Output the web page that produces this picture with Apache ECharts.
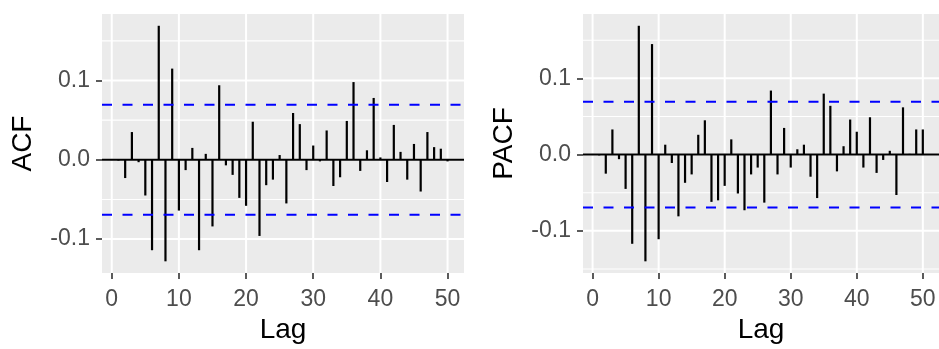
<!DOCTYPE html>
<html>
<head>
<meta charset="utf-8">
<script src="https://cdn.jsdelivr.net/npm/echarts@6/dist/echarts.min.js"></script>
<style>
html,body{margin:0;padding:0;background:#fff;}
#chart{width:939px;height:349px;}
</style>
</head>
<body>
<div id="chart"></div>
<script>
// ---- data ----
var lags = [1,2,3,4,5,6,7,8,9,10,11,12,13,14,15,16,17,18,19,20,21,22,23,24,25,26,27,28,29,30,31,32,33,34,35,36,37,38,39,40,41,42,43,44,45,46,47,48,49,50];
var acfValues = [-0.001,-0.023,0.035,-0.003,-0.045,-0.114,0.169,-0.128,0.115,-0.064,-0.013,0.015,-0.114,0.0075,-0.084,0.094,-0.007,-0.019,-0.048,-0.058,0.048,-0.096,-0.032,-0.025,0.006,-0.055,0.059,0.045,-0.013,0.018,-0.002,0.037,-0.033,-0.022,0.049,0.098,-0.014,0.012,0.078,0.003,-0.028,0.044,0.010,-0.025,0.020,-0.040,0.035,0.016,0.014,-0.002];
var pacfValues = [-0.001,-0.025,0.033,-0.006,-0.045,-0.117,0.169,-0.140,0.145,-0.111,0.013,-0.011,-0.081,-0.037,-0.026,0.026,0.045,-0.062,-0.060,-0.041,0.020,-0.051,-0.073,-0.026,-0.017,-0.063,0.084,-0.026,0.035,-0.017,0.007,0.013,-0.029,-0.057,0.080,0.064,-0.022,0.011,0.046,0.030,-0.017,0.049,-0.024,-0.007,0.005,-0.053,0.062,0.001,0.033,0.033];
var ciBound = 0.0693;
var xTicks = [0,10,20,30,40,50];
var yTicks = [-0.1,0.0,0.1];
var yMinorTicks = [-0.15,-0.05,0.05,0.15];
var xTitle = 'Lag';
var panelTitles = ['ACF','PACF'];

// ---- helpers ----
var FONT = '"Liberation Sans", Arial, sans-serif';
function expand(lo, hi){ var d=(hi-lo)*0.05; return [lo-d, hi+d]; }
var xr = expand(Math.min.apply(null,lags), Math.max.apply(null,lags));

var grids = [
  {left:102, top:14, width:362, height:261},
  {left:583, top:14, width:360, height:261}
];

var option = {
  backgroundColor:'#ffffff',
  animation:false,
  grid:[], xAxis:[], yAxis:[], series:[]
};

function vLineSeries(i, vals, color, width, z, dash){
  return {
    type:'custom', xAxisIndex:i, yAxisIndex:i, z:z, silent:true, clip:true,
    data: vals.map(function(v){ return [v, 0]; }),
    renderItem:function(params, api){
      var cs = params.coordSys;
      var p = api.coord([api.value(0), 0]);
      return {type:'line', shape:{x1:p[0], y1:cs.y, x2:p[0], y2:cs.y+cs.height},
        style:{stroke:color, lineWidth:width, lineDash:dash||null}};
    }
  };
}
function hLineSeries(i, vals, color, width, z, dash){
  return {
    type:'custom', xAxisIndex:i, yAxisIndex:i, z:z, silent:true, clip:true,
    data: vals.map(function(v){ return [0, v]; }),
    renderItem:function(params, api){
      var cs = params.coordSys;
      var p = api.coord([0, api.value(1)]);
      return {type:'line', shape:{x1:cs.x, y1:p[1], x2:cs.x+cs.width, y2:p[1]},
        style:{stroke:color, lineWidth:width, lineDash:dash||null}};
    }
  };
}

[acfValues, pacfValues].forEach(function(vals, i){
  var yr = expand(Math.min(Math.min.apply(null,vals), -ciBound), Math.max(Math.max.apply(null,vals), ciBound));
  var g = grids[i];
  option.grid.push({left:g.left, top:g.top, width:g.width, height:g.height, show:true, backgroundColor:'#EBEBEB', borderWidth:0, containLabel:false});
  option.xAxis.push({
    type:'value', gridIndex:i, min:xr[0], max:xr[1],
    axisLine:{show:false, onZero:false},
    splitLine:{show:false},
    axisTick:{show:true, length:6, lineStyle:{color:'#333333', width:1.6}, customValues:xTicks},
    axisLabel:{show:true, color:'#4D4D4D', fontSize:23, fontFamily:FONT, margin:15, customValues:xTicks, formatter:function(v){return String(Math.round(v));}},
    name:xTitle, nameLocation:'middle', nameGap:42,
    nameTextStyle:{color:'#000', fontSize:28, fontFamily:FONT}
  });
  option.yAxis.push({
    type:'value', gridIndex:i, min:yr[0], max:yr[1],
    axisLine:{show:false, onZero:false},
    splitLine:{show:false},
    axisTick:{show:true, length:6, lineStyle:{color:'#333333', width:1.6}, customValues:yTicks},
    axisLabel:{show:true, color:'#4D4D4D', fontSize:23, fontFamily:FONT, margin:12, customValues:yTicks, formatter:function(v){return (Math.round(v*10)/10).toFixed(1);}},
    name:panelTitles[i], nameLocation:'middle', nameGap:65, nameRotate:90,
    nameTextStyle:{color:'#000', fontSize:28, fontFamily:FONT}
  });

  var minorIn = yMinorTicks.filter(function(t){ return t>yr[0] && t<yr[1]; });
  option.series.push(hLineSeries(i, minorIn, '#ffffff', 1.1, 1));
  option.series.push(hLineSeries(i, yTicks, '#ffffff', 2, 1));
  option.series.push(vLineSeries(i, xTicks, '#ffffff', 2, 1));
  option.series.push(hLineSeries(i, [0], '#000000', 2, 2));
  // bars (segments from zero)
  option.series.push({
    type:'custom', xAxisIndex:i, yAxisIndex:i, z:3, silent:true,
    data: lags.map(function(l,k){ return [l, vals[k]]; }),
    renderItem:function(params, api){
      var p0 = api.coord([api.value(0), 0]);
      var p1 = api.coord([api.value(0), api.value(1)]);
      return {type:'line', shape:{x1:p0[0], y1:p0[1], x2:p1[0], y2:p1[1]}, style:{stroke:'#000', lineWidth:2.2}};
    }
  });
  option.series.push(hLineSeries(i, [ciBound, -ciBound], '#0000FF', 2, 4, [10,10.5]));
});

var chart = echarts.init(document.getElementById('chart'), null, {renderer:'canvas'});
chart.setOption(option);
</script>
</body>
</html>
